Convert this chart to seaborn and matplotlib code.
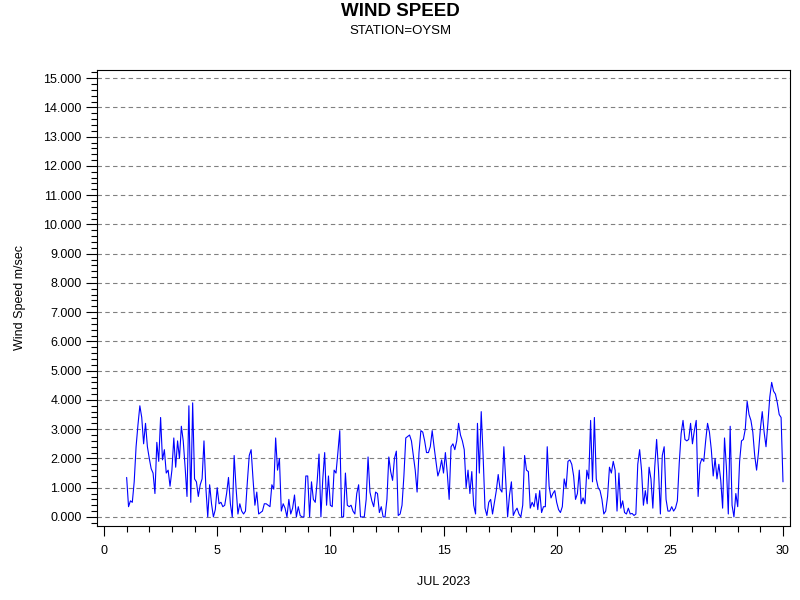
import numpy as np
import pandas as pd
import matplotlib
matplotlib.use("Agg")
import matplotlib.pyplot as plt
import seaborn as sns
from matplotlib.ticker import MultipleLocator, FormatStrFormatter

sns.set_theme(style="ticks")
plt.rcParams['font.family'] = ['Liberation Sans', 'DejaVu Sans']
plt.rcParams['text.color'] = 'black'
plt.rcParams['axes.labelcolor'] = 'black'
plt.rcParams['xtick.color'] = 'black'
plt.rcParams['ytick.color'] = 'black'

# Velocidad del viento, una lectura cada 2 horas desde el 1 de julio 00:00
week1 = [
    1.35, 0.35, 0.55, 0.5, 1.2, 2.4, 3.15, 3.8, 3.4, 2.5, 3.2, 2.4,
    2.0, 1.65, 1.5, 0.8, 2.55, 1.9, 3.4, 1.95, 2.3, 1.5, 1.6, 1.05,
    1.6, 2.7, 1.7, 2.6, 2.0, 3.1, 2.6, 1.7, 0.7, 3.8, 0.5, 3.9,
    1.3, 1.2, 0.7, 1.1, 1.3, 2.6, 1.0, 0.0, 1.1, 0.45, 0.0, 0.25,
    1.0, 0.45, 0.5, 0.35, 0.4, 0.8, 1.35, 0.45, 0.0, 2.1, 1.0, 0.1,
    0.45, 0.2, 0.1, 0.2, 1.2, 2.1, 2.3, 1.3, 0.4, 0.85, 0.1, 0.15,
    0.2, 0.45, 0.45, 0.4, 0.35, 1.1, 0.95, 2.7, 1.6, 2.0, 0.2, 0.45,
]
week2 = [
    0.3, 0.0, 0.6, 0.1, 0.3, 0.75, 0.0, 0.35, 0.05, 0.0, 0.0, 1.4,
    1.4, 0.0, 1.2, 0.6, 0.5, 1.2, 2.15, 0.0, 1.3, 2.2, 0.4, 1.4,
    0.4, 0.35, 1.6, 1.5, 2.2, 2.95, 0.0, 0.0, 1.5, 0.4, 0.35, 0.4,
    0.2, 0.1, 0.8, 1.1, 0.0, 0.0, 0.0, 0.6, 2.05, 0.85, 0.55, 0.35,
    0.85, 0.8, 0.15, 0.35, 0.0, 0.0, 0.6, 2.05, 1.55, 1.25, 2.0, 2.25,
    0.05, 0.1, 0.4, 1.4, 2.7, 2.75, 2.8, 2.6, 2.1, 1.6, 0.85, 2.2,
    2.95, 2.9, 2.6, 2.2, 2.2, 2.4, 2.95, 2.4, 1.9, 1.4, 1.6, 1.95,
]
week3 = [
    1.5, 2.2, 1.5, 0.6, 2.4, 2.5, 2.3, 2.6, 3.2, 2.8, 2.6, 2.3,
    1.0, 1.6, 0.8, 1.55, 0.4, 0.1, 3.2, 1.5, 3.6, 2.1, 0.3, 0.05,
    0.5, 0.6, 0.1, 0.5, 0.9, 1.45, 0.95, 0.85, 2.4, 1.25, 0.0, 0.75,
    1.2, 0.05, 0.2, 0.3, 0.1, 0.0, 0.4, 2.1, 1.6, 1.55, 0.3, 0.5,
    0.35, 0.8, 0.25, 0.9, 0.15, 0.35, 0.35, 2.4, 1.05, 0.65, 0.8, 0.9,
    0.5, 0.25, 0.15, 0.35, 1.3, 1.0, 1.9, 1.95, 1.8, 1.4, 0.6, 0.8,
    1.6, 0.45, 0.65, 0.45, 1.6, 1.3, 3.3, 1.2, 3.4, 1.3, 1.0, 0.9,
]
week4 = [
    0.6, 0.1, 0.2, 0.7, 1.7, 1.5, 1.9, 1.6, 0.2, 1.5, 0.3, 0.55,
    0.15, 0.1, 0.3, 0.1, 0.12, 0.05, 0.1, 1.8, 2.3, 1.6, 0.4, 0.9,
    0.45, 1.7, 1.3, 0.3, 1.7, 2.65, 1.6, 0.1, 2.1, 2.4, 0.6, 0.2,
    0.2, 0.35, 0.2, 0.3, 0.55, 1.85, 2.85, 3.3, 2.65, 2.6, 2.65, 3.2,
    2.5, 2.95, 3.3, 0.7, 1.8, 2.0, 1.9, 2.6, 3.2, 2.9, 2.3, 1.4,
    2.0, 1.3, 1.8, 1.25, 0.3, 2.7, 1.7, 0.1, 3.1, 0.4, 0.0, 0.8,
    0.35, 1.9, 2.6, 2.65, 3.0, 3.95, 3.5, 3.3, 2.9, 2.1, 1.6, 2.2,
]
tail = [3.0, 3.6, 2.9, 2.4, 3.2, 4.1, 4.6, 4.3, 4.2, 3.9, 3.5, 3.4, 1.2]

speed = week1 + week2 + week3 + week4 + tail
hours = np.arange(len(speed)) * 2
df = pd.DataFrame({"dia": 1 + hours / 24, "velocidad": speed})

y_ticks = np.arange(0, 16, 1)
x_ticks = [0, 5, 10, 15, 20, 25, 30]

fig = plt.figure(figsize=(8, 6), dpi=100)
ax = fig.add_axes([97 / 800, 74 / 600, 693 / 800, 456 / 600])

sns.lineplot(data=df, x="dia", y="velocidad", color="#0000ff", linewidth=0.8, ax=ax)

ax.set_xlim(-0.31, 30.31)
ax.set_ylim(-0.31, 15.28)
ax.set_xticks(x_ticks)
ax.set_yticks(y_ticks)
ax.xaxis.set_minor_locator(MultipleLocator(1))
ax.yaxis.set_minor_locator(MultipleLocator(0.2))
ax.yaxis.set_major_formatter(FormatStrFormatter("%.3f"))

ax.set_axisbelow(True)
ax.yaxis.grid(True, which="major", linestyle=(0, (4, 3)), color="#808080", linewidth=0.8)
ax.xaxis.grid(False)

for s in ax.spines.values():
    s.set_visible(True)
    s.set_color("black")
    s.set_linewidth(0.8)

ax.tick_params(axis="y", which="major", length=8, width=0.8, pad=3, labelsize=9)
ax.tick_params(axis="y", which="minor", length=4, width=0.8)
ax.tick_params(axis="x", which="major", length=7, width=0.8, pad=6.5, labelsize=9)
ax.tick_params(axis="x", which="minor", length=4.5, width=0.8)

ax.set_xlabel("JUL 2023", fontsize=9)
ax.set_ylabel("Wind Speed m/sec", fontsize=9)
ax.xaxis.set_label_coords(0.5, -0.11)
ax.yaxis.set_label_coords(-0.103, 0.5)

fig.text(0.5, 1 - 11.5 / 600, "WIND SPEED", ha="center", va="center",
         fontsize=13.5, fontweight="bold")
fig.text(0.5, 1 - 31.5 / 600, "STATION=OYSM", ha="center", va="center", fontsize=9.5)

fig.savefig("out.png", dpi=100)
